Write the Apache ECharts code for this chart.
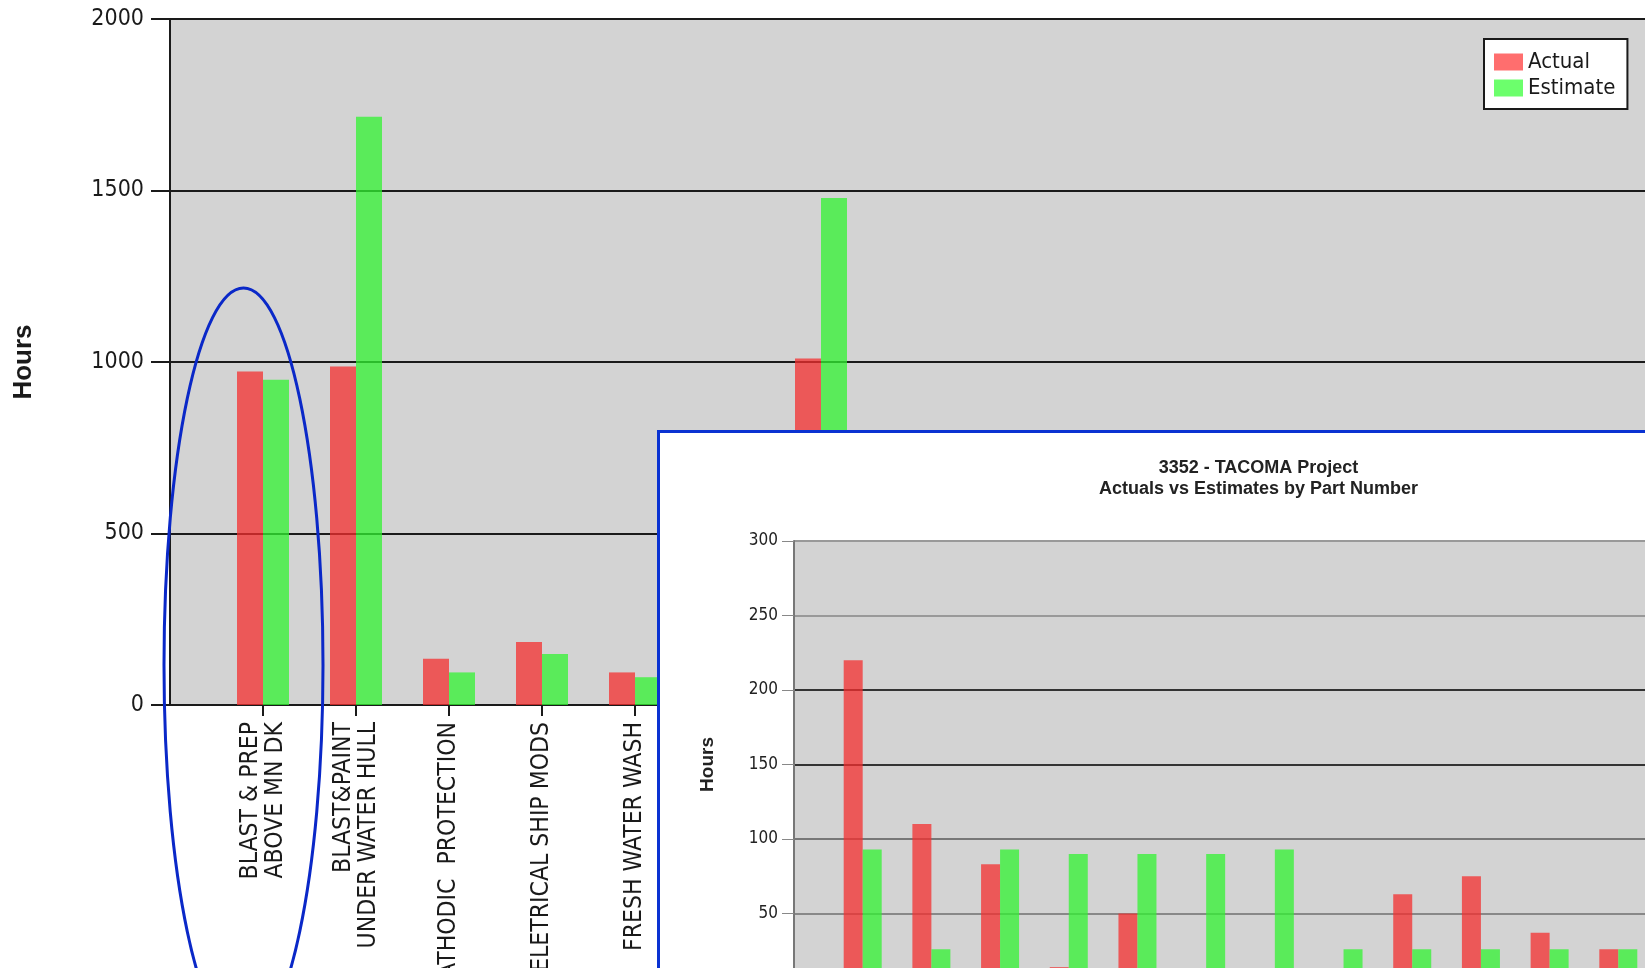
<!DOCTYPE html>
<html>
<head>
<meta charset="utf-8">
<script src="https://cdn.jsdelivr.net/npm/echarts@6.0.0/dist/echarts.min.js"></script>
<style>
html, body {margin: 0; padding: 0; overflow: hidden; background: #fff;}
#main {position: absolute; left: 0; top: 0; width: 1645px; height: 968px;}
#inset {position: absolute; left: 657px; top: 430px; width: 1197px; height: 600px;
        border: 3px solid #0a32d2; background: #fff;}
</style>
</head>
<body>
<div id="main"></div>
<div id="inset"></div>
<script>
// main chart: hours by task (blank entries sit at the axis or under the inset)
const mainCategories = ['', 'BLAST & PREP\nABOVE MN DK', 'BLAST&PAINT\nUNDER WATER HULL',
    'CATHODIC  PROTECTION', 'ELETRICAL SHIP MODS', 'FRESH WATER WASH',
    '', '', '', '', '', '', '', '', '', '', ''];
const mainActual =   [null, 972, 987, 135, 184, 95, null, 1010, null, null, null, null, null, null, null, null, null];
const mainEstimate = [null, 948, 1715, 95, 149, 81, null, 1478, null, null, null, null, null, null, null, null, null];
const mainTicks = [0, 2000, 500];   // min, max, interval

// inset chart: 3352 - TACOMA, by part number
const insetTitle = '3352 - TACOMA Project\nActuals vs Estimates by Part Number';
const insetCategories = ['', '', '', '', '', '', '', '', '', '', '', '', '', ''];
const insetActual =   [null, 220, 110, 83, 14, 50, 0, 0, 0, 63, 75, 37, 26, null];
const insetEstimate = [null, 93, 26, 93, 90, 90, 90, 93, 26, 26, 26, 26, 26, null];
const insetTicks = [0, 300, 50];

const seriesNames = ['Actual', 'Estimate'];

const NARROW = '"Liberation Sans Narrow", "Arial Narrow", "DejaVu Sans Condensed", sans-serif';
const SANS = '"Liberation Sans", Arial, sans-serif';
const RED = 'rgba(244,47,47,0.75)';
const GREEN = 'rgba(50,243,50,0.75)';
const INK = '#1a1a1a';

function barSeries(name, data, color, width) {
    return {
        type: 'bar',
        name,
        data,
        barWidth: width,
        barGap: '0%',
        animation: false,
        itemStyle: {color},
        emphasis: {disabled: true},
    };
}

const plain = v => String(v);

const mainChart = echarts.init(document.getElementById('main'), null, {renderer: 'canvas'});
mainChart.setOption({
    animation: false,
    grid: {
        left: 170, top: 19, width: 1488, height: 686,
        outerBoundsMode: 'none', containLabel: false,
        show: true, backgroundColor: '#d3d3d3', borderWidth: 0,
    },
    legend: {
        orient: 'vertical',
        left: 1484, top: 39,
        padding: [11, 12, 9, 10],
        backgroundColor: '#fff',
        borderColor: INK, borderWidth: 2,
        itemWidth: 29, itemHeight: 17, itemGap: 2,
        icon: 'rect',
        textStyle: {fontFamily: NARROW, fontSize: 22, lineHeight: 24, color: INK},
        data: [
            {name: seriesNames[0], itemStyle: {color: '#ff6e6e'}},
            {name: seriesNames[1], itemStyle: {color: '#6cff6c'}},
        ],
    },
    xAxis: {
        type: 'category',
        data: mainCategories,
        boundaryGap: false,
        axisLine: {lineStyle: {color: INK, width: 2}},
        axisTick: {
            alignWithLabel: true, length: 11,
            interval: (i, v) => v !== '',
            lineStyle: {color: INK, width: 2},
        },
        axisLabel: {
            interval: 0, rotate: 90, margin: 17,
            fontFamily: NARROW, fontSize: 24.5, lineHeight: 25, color: INK,
        },
    },
    yAxis: {
        type: 'value',
        min: mainTicks[0], max: mainTicks[1], interval: mainTicks[2],
        name: 'Hours',
        nameLocation: 'middle',
        nameGap: 133,
        nameTextStyle: {fontFamily: SANS, fontWeight: 'bold', fontSize: 26, color: INK},
        axisLine: {show: true, lineStyle: {color: INK, width: 2}},
        axisTick: {show: true, length: 19, lineStyle: {color: INK, width: 2}},
        axisLabel: {margin: 26, fontFamily: NARROW, fontSize: 23, color: INK, formatter: plain},
        splitLine: {lineStyle: {color: INK, width: 2}},
    },
    series: [
        barSeries(seriesNames[0], mainActual, RED, 26),
        barSeries(seriesNames[1], mainEstimate, GREEN, 26),
    ],
    graphic: [{
        type: 'ellipse',
        z: 100,
        shape: {cx: 243.5, cy: 665, rx: 79.5, ry: 377},
        style: {fill: 'none', stroke: '#0a28c8', lineWidth: 3},
    }],
});

const insetChart = echarts.init(document.getElementById('inset'), null, {renderer: 'canvas'});
insetChart.setOption({
    animation: false,
    title: {
        text: insetTitle,
        left: 'center', top: 25, padding: 0,
        textStyle: {fontFamily: SANS, fontWeight: 'bold', fontSize: 18, lineHeight: 21, color: '#222'},
    },
    grid: {
        left: 134, top: 108, width: 893, height: 447,
        outerBoundsMode: 'none', containLabel: false,
        show: true, backgroundColor: '#d3d3d3', borderWidth: 0,
    },
    xAxis: {
        type: 'category',
        data: insetCategories,
        boundaryGap: false,
        axisLine: {lineStyle: {color: '#777', width: 2}},
        axisTick: {show: false},
        axisLabel: {show: false},
    },
    yAxis: {
        type: 'value',
        min: insetTicks[0], max: insetTicks[1], interval: insetTicks[2],
        name: 'Hours',
        nameLocation: 'middle',
        nameGap: 77,
        nameTextStyle: {fontFamily: SANS, fontWeight: 'bold', fontSize: 19, color: '#222'},
        axisLine: {show: true, lineStyle: {color: '#777', width: 2}},
        axisTick: {show: true, length: 12, lineStyle: {color: '#888', width: 1}},
        axisLabel: {margin: 16, fontFamily: NARROW, fontSize: 17, color: '#222', formatter: plain},
        splitLine: {lineStyle: {color: ['#777', '#888', '#777', '#333', '#333', '#999', '#999'], width: 2}},
    },
    series: [
        barSeries(seriesNames[0], insetActual, RED, 19),
        barSeries(seriesNames[1], insetEstimate, GREEN, 19),
    ],
});
</script>
</body>
</html>
